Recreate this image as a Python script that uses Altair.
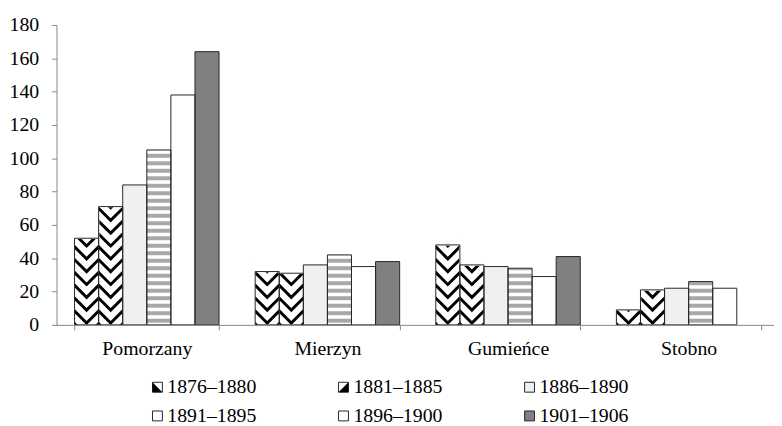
import altair as alt
import pandas as pd

# ---- data ----
categories = ["Pomorzany", "Mierzyn", "Gumieńce", "Stobno"]
series = ["1876–1880", "1881–1885", "1886–1890", "1891–1895", "1896–1900", "1901–1906"]
v_1876_1880 = [52, 32, 48, 9]
v_1881_1885 = [71, 31, 36, 21]
v_1886_1890 = [84, 36, 35, 22]
v_1891_1895 = [105, 42, 34, 26]
v_1896_1900 = [138, 35, 29, 22]
v_1901_1906 = [164, 38, 41, None]
y_ticks = [0, 20, 40, 60, 80, 100, 120, 140, 160, 180]

# ---- styles ----
fills = ["#ffffff", "#ffffff", "#f0f0f0", "#ffffff", "#ffffff", "#808080"]
FONT = "Liberation Serif"
FS = 20
AXIS_GRAY = "#868686"
OUTLINE = "#262626"
CHEVRON = "M-1,-0.675 L0,0.325 L1,-0.675 L1,-0.325 L0,0.675 L-1,-0.325 Z"
TRI_A = "M-1,-1 L-1,1 L1,1 Z"
TRI_B = "M1,-1 L1,1 L-1,1 Z"
EMPTY = "M0,0 L0,0 Z"

values = [v_1876_1880, v_1881_1885, v_1886_1890, v_1891_1895, v_1896_1900, v_1901_1906]
rows = []
for s, vals in zip(series, values):
    for c, v in zip(categories, vals):
        if v is not None:
            rows.append({"category": c, "series": s, "value": v})
df = pd.DataFrame(rows)
series_b = ["#" + s for s in series]
df_leg = pd.DataFrame({"series_b": series_b})

x_enc = alt.X(
    "category:N",
    sort=categories,
    scale=alt.Scale(domain=categories, paddingInner=0.2, paddingOuter=0.1),
    axis=alt.Axis(
        title=None, labelAngle=0, tickBand="extent", tickSize=5, labelPadding=9,
        labelFont=FONT, labelFontSize=FS, labelColor="black",
        domainColor=AXIS_GRAY, tickColor=AXIS_GRAY, zindex=1,
    ),
)
xo_enc = alt.XOffset(
    "series:N", sort=series,
    scale=alt.Scale(domain=series, paddingInner=0, paddingOuter=0),
)


def y_enc(field):
    return alt.Y(
        field,
        scale=alt.Scale(domain=[0, 180], nice=False),
        axis=alt.Axis(
            title=None, values=y_ticks, grid=False, tickSize=5, labelPadding=13,
            labelFont=FONT, labelFontSize=FS, labelColor="black",
            domainColor=AXIS_GRAY, tickColor=AXIS_GRAY, zindex=1,
        ),
    )


legend_common = dict(
    orient="none", legendX=92, legendY=356, columns=3, columnPadding=78,
    direction="horizontal", rowPadding=9, labelOffset=0, symbolSize=100,
    labelFont=FONT, labelFontSize=FS, padding=0, title=None,
)

base = alt.Chart(df).mark_bar(strokeWidth=0).encode(
    x=x_enc, xOffset=xo_enc, y=y_enc("value:Q"),
    fill=alt.Fill(
        "series:N", sort=series,
        scale=alt.Scale(domain=series, range=fills),
        legend=alt.Legend(
            symbolType="square", symbolStrokeColor=OUTLINE, symbolStrokeWidth=1,
            labelColor="black", **legend_common,
        ),
    ),
)

stripes = (
    alt.Chart(df)
    .transform_filter("datum.series == '1891–1895'")
    .transform_calculate(s="sequence(1.3, datum.value, 4.5)")
    .transform_flatten(["s"])
    .transform_calculate(s2="min(datum.s + 2.4, datum.value)")
    .mark_bar(fill="#a8a8a8", strokeWidth=0)
    .encode(x=x_enc, xOffset=xo_enc, y=y_enc("s:Q"), y2="s2:Q")
)

chev_filter = "datum.series == '1876–1880' || datum.series == '1881–1885'"

chevrons = (
    alt.Chart(df)
    .transform_filter(chev_filter)
    .transform_calculate(c="sequence(-3, datum.value + 5, 7.7)")
    .transform_flatten(["c"])
    .mark_point(shape=CHEVRON, filled=True, fill="black", size=580, strokeWidth=0,
                opacity=1, clip=True)
    .encode(x=x_enc, xOffset=xo_enc, y=y_enc("c:Q"))
)

# white cap above the chevron bars hides the part of the pattern above the bar top
caps = (
    alt.Chart(df)
    .transform_filter(chev_filter)
    .transform_calculate(top="datum.value + 10.5")
    .mark_bar(fill="white", stroke="white", strokeWidth=1.5)
    .encode(x=x_enc, xOffset=xo_enc, y=y_enc("value:Q"), y2="top:Q")
)

outline = alt.Chart(df).mark_bar(fill="transparent", stroke=OUTLINE, strokeWidth=1).encode(
    x=x_enc, xOffset=xo_enc, y=y_enc("value:Q"),
)

legend_marks = alt.Chart(df_leg).mark_point(
    filled=True, fill="black", strokeWidth=0, opacity=1, clip=True
).encode(
    x=alt.value(10), y=alt.value(-60),
    shape=alt.Shape(
        "series_b:N", sort=series_b,
        scale=alt.Scale(domain=series_b, range=[TRI_A, TRI_B, EMPTY, EMPTY, EMPTY, EMPTY]),
        legend=alt.Legend(
            symbolFillColor="black", symbolStrokeWidth=0, symbolOpacity=1,
            labelOpacity=0, labelExpr="substring(datum.label, 1)", zindex=2,
            **legend_common,
        ),
    ),
)

chart = (
    alt.layer(base, stripes, chevrons, caps, outline, legend_marks)
    .resolve_legend(fill="independent", shape="independent")
    .properties(
        width=730, height=303,
        padding={"left": 49, "top": 15, "right": -5, "bottom": 100},
        autosize=alt.AutoSizeParams(type="none"),
        background="white",
    )
    .configure_view(stroke=None)
)

chart.save("out.html", embed_options={"renderer": "svg", "actions": False})
